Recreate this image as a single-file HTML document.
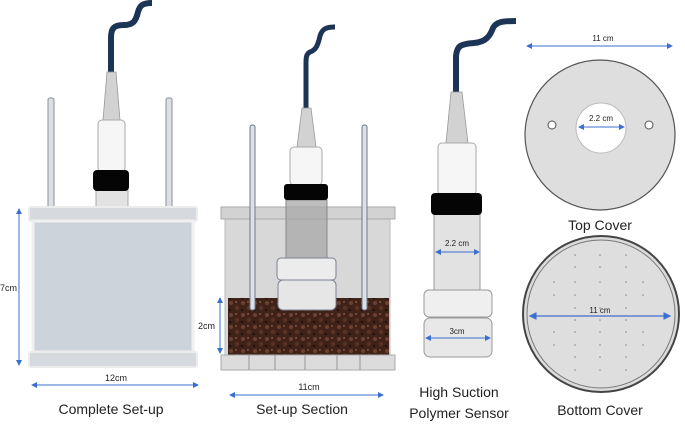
<!DOCTYPE html>
<html><head><meta charset="utf-8"><style>
html,body{margin:0;padding:0;background:#fff;}
svg{display:block;}
text{font-family:"Liberation Sans","DejaVu Sans",sans-serif;fill:#222;}
</style></head><body>
<svg width="685" height="426" viewBox="0 0 685 426" xmlns="http://www.w3.org/2000/svg">
<defs>
<marker id="a" markerWidth="6" markerHeight="6" refX="5" refY="3" orient="auto-start-reverse"><path d="M0,0 L6,3 L0,6 z" fill="#3b6fd1"/></marker>
<pattern id="soil" width="12" height="12" patternUnits="userSpaceOnUse">
<rect width="12" height="12" fill="#3f2218"/>
<circle cx="3" cy="3" r="2" fill="#6e4030"/><circle cx="9" cy="8" r="2.2" fill="#5a3224"/><circle cx="8" cy="2" r="1" fill="#85543e"/><circle cx="2" cy="10" r="1.3" fill="#24140d"/>
</pattern>
</defs>

<!-- ===== Complete Set-up ===== -->
<path d="M152,3 C143,3 140,5 138,12 C136,20 134,25 124,25 C114,25 111,28 111,38 L111,72" fill="none" stroke="#1c3557" stroke-width="6"/>
<polygon points="107,72 116,72 120,120 103,120" fill="#d2d2d2" stroke="#999" stroke-width="0.8"/>
<rect x="48" y="98" width="6" height="110" rx="2" fill="#dcdfe4" stroke="#8a8f99"/>
<rect x="166" y="98" width="6" height="110" rx="2" fill="#dcdfe4" stroke="#8a8f99"/>
<rect x="98" y="120" width="27" height="52" rx="4" fill="#f6f6f6" stroke="#aaa"/>
<rect x="96" y="190" width="32" height="18" fill="#e2e2e2" stroke="#aaa"/>
<rect x="93" y="170" width="36" height="21" rx="4" fill="#050505"/>
<rect x="29" y="207" width="168" height="14" rx="2" fill="#d6d9de" stroke="#ececec" stroke-width="2"/>
<rect x="33" y="221" width="160" height="131" fill="#cdd3db" stroke="#eef0f2" stroke-width="3"/>
<rect x="29" y="352" width="168" height="15" rx="2" fill="#d6d9de" stroke="#ececec" stroke-width="2"/>
<line x1="19" y1="209" x2="19" y2="365" stroke="#3b6fd1" stroke-width="1" marker-start="url(#a)" marker-end="url(#a)"/>
<text x="0" y="291" font-size="9">7cm</text>
<line x1="32" y1="385" x2="198" y2="385" stroke="#3b6fd1" stroke-width="1" marker-start="url(#a)" marker-end="url(#a)"/>
<text x="116" y="381" font-size="9" text-anchor="middle">12cm</text>
<text x="111" y="414" font-size="14" text-anchor="middle">Complete Set-up</text>

<!-- ===== Set-up Section ===== -->
<rect x="225" y="219" width="165" height="136" fill="#d8d8d8" stroke="#bbb"/>
<rect x="228" y="298" width="161" height="57" fill="url(#soil)"/>
<rect x="221" y="207" width="174" height="12" fill="#d2d2d2" stroke="#aaa"/>
<rect x="221" y="355" width="174" height="15" fill="#dcdcdc" stroke="#aaa"/>
<g stroke="#999" stroke-width="1"><line x1="249" y1="355" x2="249" y2="370"/><line x1="275" y1="355" x2="275" y2="370"/><line x1="305" y1="355" x2="305" y2="370"/><line x1="337" y1="355" x2="337" y2="370"/><line x1="360" y1="355" x2="360" y2="370"/></g>
<path d="M335,27 C326,27 322,29 320,36 C318,45 316,50 310,52 C306,54 306,58 306,64 L306,108" fill="none" stroke="#1c3557" stroke-width="5"/>
<polygon points="302,108 311,108 316,147 297,147" fill="#d2d2d2" stroke="#999" stroke-width="0.8"/>
<rect x="250" y="125" width="5" height="185" rx="2" fill="#dcdfe4" stroke="#6f7890"/>
<rect x="362" y="125" width="5" height="185" rx="2" fill="#dcdfe4" stroke="#6f7890"/>
<rect x="290" y="147" width="32" height="38" rx="4" fill="#f6f6f6" stroke="#aaa"/>
<rect x="286" y="200" width="41" height="58" fill="#a8a8a8" fill-opacity="0.75" stroke="#888"/>
<rect x="284" y="184" width="44" height="16" rx="3" fill="#050505"/>
<rect x="277" y="258" width="59" height="22" rx="4" fill="#ececec" stroke="#7b8194"/>
<rect x="278" y="280" width="58" height="30" rx="5" fill="#e6e6e6" stroke="#7b8194"/>
<line x1="220" y1="298" x2="220" y2="353" stroke="#3b6fd1" stroke-width="1" marker-start="url(#a)" marker-end="url(#a)"/>
<text x="198" y="329" font-size="9">2cm</text>
<line x1="230" y1="395" x2="383" y2="395" stroke="#3b6fd1" stroke-width="1" marker-start="url(#a)" marker-end="url(#a)"/>
<text x="309" y="390" font-size="9" text-anchor="middle">11cm</text>
<text x="302" y="414" font-size="14" text-anchor="middle">Set-up Section</text>

<!-- ===== Sensor ===== -->
<path d="M516,21 C502,21 496,22 493,28 C490,36 486,42 474,43 C460,44 457,46 456,56 L456,92" fill="none" stroke="#1c3557" stroke-width="6"/>
<polygon points="451,92 462,92 468,143 446,143" fill="#d2d2d2" stroke="#999" stroke-width="0.8"/>
<rect x="438" y="143" width="38" height="52" rx="4" fill="#f6f6f6" stroke="#aaa"/>
<rect x="434" y="214" width="46" height="76" fill="#e2e2e2" stroke="#999"/>
<rect x="431" y="193" width="51" height="22" rx="4" fill="#050505"/>
<rect x="424" y="290" width="68" height="27" rx="5" fill="#efefef" stroke="#999"/>
<rect x="424" y="318" width="68" height="39" rx="6" fill="#e8e8e8" stroke="#999"/>
<line x1="436" y1="252" x2="479" y2="252" stroke="#3b6fd1" stroke-width="1" marker-start="url(#a)" marker-end="url(#a)"/>
<text x="457" y="246" font-size="8" text-anchor="middle">2.2 cm</text>
<line x1="426" y1="338" x2="490" y2="338" stroke="#3b6fd1" stroke-width="1" marker-start="url(#a)" marker-end="url(#a)"/>
<text x="457" y="334" font-size="8" text-anchor="middle">3cm</text>
<text x="459" y="397" font-size="14" text-anchor="middle">High Suction</text>
<text x="459" y="418" font-size="14" text-anchor="middle">Polymer Sensor</text>

<!-- ===== Top Cover ===== -->
<line x1="527" y1="46" x2="672" y2="46" stroke="#3b6fd1" stroke-width="1" marker-start="url(#a)" marker-end="url(#a)"/>
<text x="603" y="41" font-size="8" text-anchor="middle">11 cm</text>
<circle cx="600" cy="135" r="75" fill="#dedede" stroke="#555" stroke-width="1.2"/>
<circle cx="601" cy="128" r="25" fill="#fff" stroke="#bbb"/>
<circle cx="552" cy="125" r="4" fill="#fff" stroke="#555"/>
<circle cx="649" cy="125" r="4" fill="#fff" stroke="#555"/>
<line x1="579" y1="127" x2="624" y2="127" stroke="#3b6fd1" stroke-width="1" marker-start="url(#a)" marker-end="url(#a)"/>
<text x="601" y="121" font-size="8" text-anchor="middle">2.2 cm</text>
<text x="600" y="230" font-size="14" text-anchor="middle">Top Cover</text>

<!-- ===== Bottom Cover ===== -->
<circle cx="601" cy="314" r="78" fill="#dcdcdc" stroke="#444" stroke-width="2"/>
<circle cx="601" cy="314" r="74" fill="#dedede" stroke="#777" stroke-width="1"/>
<g fill="#888">
<circle cx="575" cy="255" r="0.8"/><circle cx="600" cy="255" r="0.8"/><circle cx="626" cy="255" r="0.8"/>
<circle cx="575" cy="267" r="0.8"/><circle cx="600" cy="267" r="0.8"/><circle cx="626" cy="267" r="0.8"/>
<circle cx="554" cy="282" r="0.8"/><circle cx="575" cy="282" r="0.8"/><circle cx="600" cy="282" r="0.8"/><circle cx="626" cy="282" r="0.8"/><circle cx="643" cy="282" r="0.8"/>
<circle cx="554" cy="295" r="0.8"/><circle cx="575" cy="295" r="0.8"/><circle cx="600" cy="295" r="0.8"/><circle cx="626" cy="295" r="0.8"/><circle cx="643" cy="295" r="0.8"/>
<circle cx="575" cy="308" r="0.8"/><circle cx="600" cy="308" r="0.8"/><circle cx="626" cy="308" r="0.8"/>
<circle cx="575" cy="320" r="0.8"/><circle cx="600" cy="320" r="0.8"/><circle cx="626" cy="320" r="0.8"/>
<circle cx="554" cy="332" r="0.8"/><circle cx="575" cy="332" r="0.8"/><circle cx="600" cy="332" r="0.8"/><circle cx="626" cy="332" r="0.8"/><circle cx="643" cy="332" r="0.8"/>
<circle cx="554" cy="345" r="0.8"/><circle cx="575" cy="345" r="0.8"/><circle cx="600" cy="345" r="0.8"/><circle cx="626" cy="345" r="0.8"/><circle cx="643" cy="345" r="0.8"/>
<circle cx="575" cy="357" r="0.8"/><circle cx="600" cy="357" r="0.8"/><circle cx="626" cy="357" r="0.8"/>
<circle cx="575" cy="370" r="0.8"/><circle cx="600" cy="370" r="0.8"/><circle cx="626" cy="370" r="0.8"/>
</g>
<line x1="530" y1="316" x2="670" y2="316" stroke="#3b6fd1" stroke-width="1.3" marker-start="url(#a)" marker-end="url(#a)"/>
<text x="600" y="313" font-size="8" text-anchor="middle">11 cm</text>
<text x="600" y="415" font-size="14" text-anchor="middle">Bottom Cover</text>
</svg>
</body></html>
